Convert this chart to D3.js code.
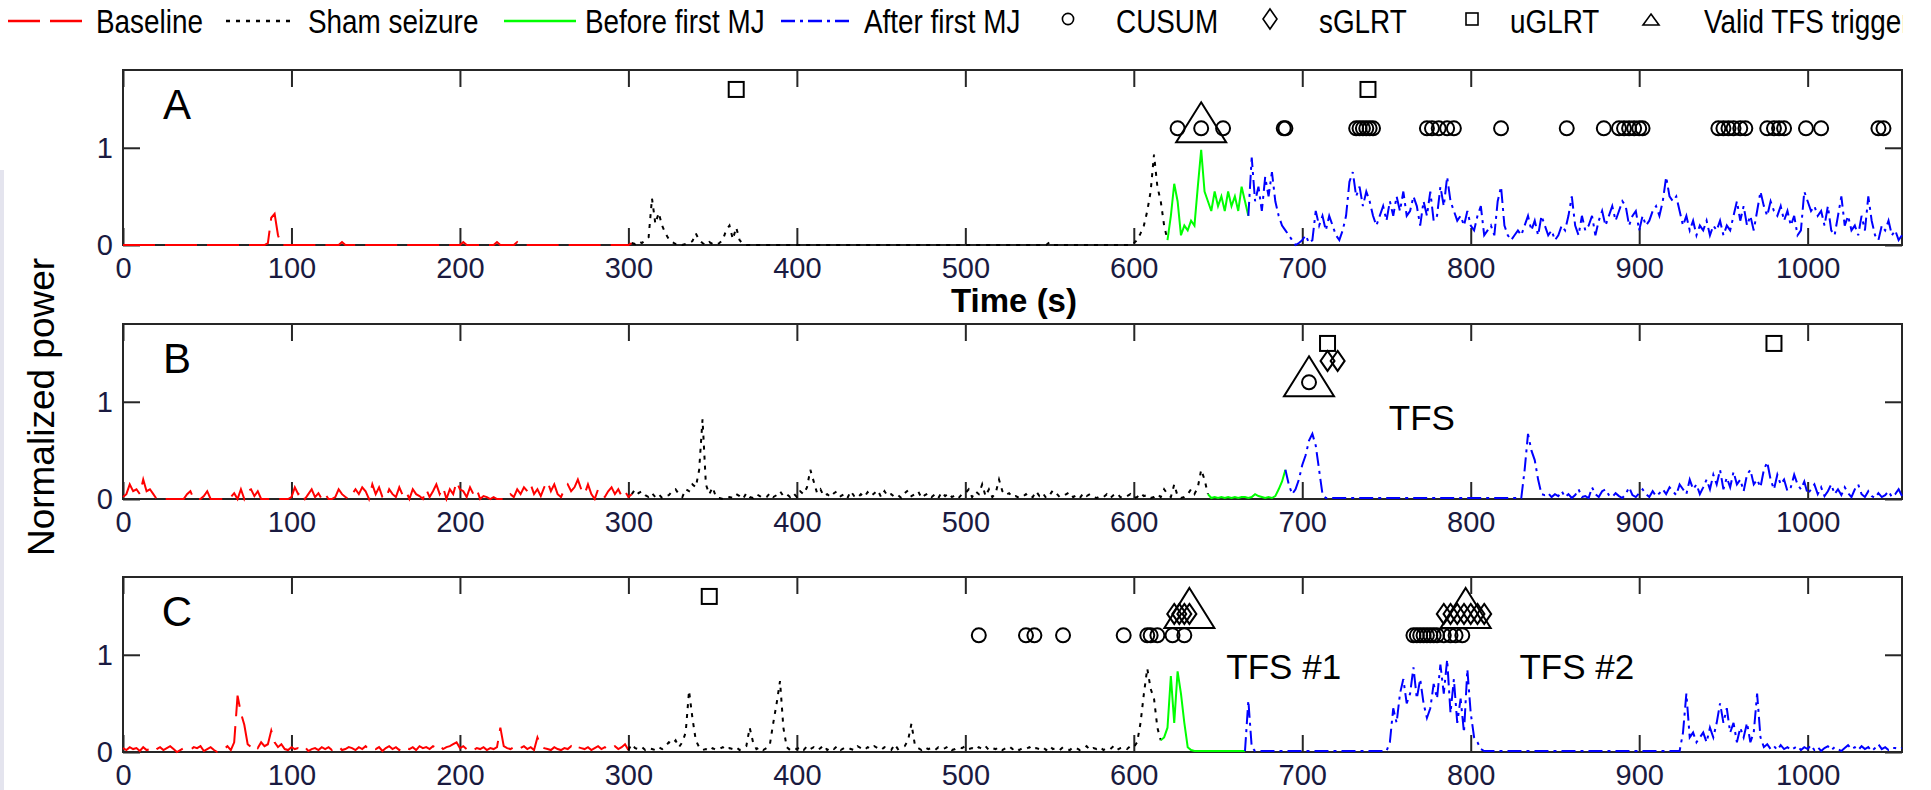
<!DOCTYPE html>
<html lang="en">
<head>
  <meta charset="UTF-8">
  <title>Normalized power</title>
  <script src="https://d3js.org/d3.v7.min.js"></script>
  <style>
    body { margin: 0; background: #fff; }
    svg text { font-family: "Liberation Sans", Arial, sans-serif; }
  </style>
</head>
<body>
<script>
  // one sample every 2 s, 0 .. 1056 s
  var tStep = 2
  var tMax = 1056
  var xTicks = [0, 100, 200, 300, 400, 500, 600, 700, 800, 900, 1000]
  var yTicks = [0, 1]
  var yMax = 1.8

  // normalized power, rows of 20 s
  var powerA = [
    0,0,0,0,0,0,0,0,0,0, 0,0,0,0,0,0,0,0,0,0, 0,0,0,0,0,0,0,0,0,0, 0,0,0,0,0,0,0,0,0,0,
    0,0,0,.02,.28,.32,.1,0,0,0,
    // 100 s
    0,0,0,0,0,0,0,0,0,0, 0,0,0,0,0,.03,0,0,0,0, 0,0,0,0,0,0,0,0,0,0, 0,0,0,0,0,0,0,0,0,0,
    0,0,0,0,0,0,0,0,0,0,
    // 200 s
    0,.03,0,0,0,0,0,0,0,0, 0,.03,0,0,0,0,0,.03,0,0, 0,0,0,0,0,0,0,0,0,0, 0,0,0,0,0,0,0,0,0,0,
    0,0,0,0,0,0,0,0,0,0,
    // 300 s
    0,.02,.01,.04,.02,.05,.08,.48,.22,.33,
    .2,.12,.06,.03,.01,.02,0,.01,.02,.04,
    .12,.05,.02,0,.03,.01,0,.02,.05,.15,
    .2,.06,.18,.05,.01,0,0,0,0,0,
    0,0,0,0,0,0,0,0,0,0,
    // 400 s
    0,0,0,0,0,0,0,0,0,0, 0,0,0,0,0,0,0,0,0,0, 0,0,0,0,0,0,0,0,0,0, 0,0,0,0,0,0,0,0,0,0,
    0,0,0,0,0,0,0,0,0,0,
    // 500 s
    0,0,0,0,0,0,0,0,0,0, 0,0,0,0,0,0,0,0,0,0, 0,0,0,0,0,.03,0,0,0,0, 0,0,0,0,0,0,0,0,0,0,
    0,0,0,0,0,0,0,0,0,0,
    // 600 s
    .02,.05,.12,.2,.35,.55,.93,.6,.45,.2,
    .05,.3,.63,.45,.1,.2,.15,.25,.2,.6,
    .98,.55,.45,.35,.55,.4,.5,.35,.55,.4,
    .5,.35,.6,.45,.3,.9,.45,.6,.35,.7,
    .5,.75,.45,.3,.2,.15,.1,.05,0,.02,
    // 700 s
    .05,.1,.02,.05,.35,.2,.3,.15,.3,.2,
    .1,.05,.15,.3,.65,.75,.5,.6,.4,.55,
    .45,.3,.2,.3,.4,.25,.45,.3,.5,.35,
    .55,.3,.35,.5,.4,.2,.45,.3,.55,.25,
    .3,.6,.4,.7,.45,.35,.25,.3,.2,.35,
    // 800 s
    .2,.15,.3,.4,.1,.15,.2,.1,.45,.6,
    .2,.1,.05,.1,.15,.1,.2,.3,.15,.25,
    .1,.3,.2,.1,.15,.05,.1,.2,.15,.3,
    .5,.2,.1,.3,.15,.2,.3,.1,.25,.35,
    .2,.3,.4,.25,.35,.45,.4,.2,.3,.35,
    // 900 s
    .15,.3,.2,.25,.35,.4,.3,.45,.7,.5,
    .45,.5,.35,.2,.3,.15,.25,.1,.2,.15,
    .25,.1,.2,.15,.25,.1,.2,.15,.3,.45,
    .25,.4,.2,.3,.15,.35,.55,.4,.3,.45,
    .35,.3,.4,.25,.35,.2,.3,.1,.15,.55,
    // 1000 s
    .45,.35,.4,.3,.35,.2,.4,.15,.1,.3,
    .5,.2,.3,.15,.2,.1,.3,.15,.5,.25,
    .1,.05,.2,.15,.25,.1,.15,.05,.1
  ]

  var powerB = [
    .02,.05,.15,.08,.1,.05,.2,.08,.1,.05,
    0,0,0,0,0,0,0,0,0,.05,
    .08,0,0,0,.03,.08,0,0,0,0,
    0,0,.02,.06,0,.1,0,.08,.1,.03,
    .08,0,0,0,0,0,0,0,0,0,
    // 100 s
    .02,.12,.05,.08,0,.05,.1,.02,.06,0,
    .05,0,0,.02,.1,.05,.02,0,.05,.1,
    .05,.12,.08,0,.15,.05,.12,.02,0,.1,
    .05,.02,.12,.04,.08,0,.1,.05,.03,0,
    .1,.02,.08,.15,.05,.12,0,.1,.05,.18,
    // 200 s
    .1,.08,.02,.12,.05,.1,0,.03,.02,0,
    .02,0,0,0,0,.05,.02,.1,.05,.12,
    .08,.15,.05,.1,.03,.12,.18,.08,.15,.05,
    .02,.1,.15,.08,.12,.2,.1,.05,.15,.05,
    0,.1,.05,.02,.08,.12,.05,.1,.03,.08,
    // 300 s
    .02,.05,.1,.06,.08,.04,.02,.06,.02,.05,
    .01,.03,.04,.08,.1,.05,.02,.1,.08,.15,
    .12,.3,.82,.15,.05,.12,.02,.01,0,0,
    .02,.01,.05,.03,0,.06,.02,.01,.05,.03,
    .01,.02,.06,.02,.04,.08,.03,.05,.02,.06,
    // 400 s
    .02,.08,.05,.12,.3,.18,.06,.1,.03,.05,
    .02,.06,.08,.03,.05,.01,.08,.03,.01,.05,
    .02,.07,.03,.06,.09,.02,.08,.03,.05,.02,
    .04,.01,.06,.09,.03,.05,.08,.01,.04,.06,
    .02,.05,.01,.07,.03,.06,.02,.04,.01,.05,
    // 500 s
    .06,.1,.02,.08,.05,.15,.03,.1,.02,.06,
    .2,.08,.04,.06,.02,.03,.01,.02,.05,.01,
    .02,.08,.03,.06,.01,.04,.09,.06,.02,.03,
    .05,.07,.02,.04,.01,.06,.03,.05,.02,.01,
    .03,.02,.05,.01,.04,.06,.02,.01,.03,.05,
    // 600 s
    .01,.02,.06,.03,.04,.01,.02,.05,.02,.1,
    .05,.02,.15,.03,.01,.02,.05,.1,.05,.12,
    .3,.2,.05,.01,.02,.01,.02,.01,.02,.01,
    .02,.01,.02,.02,.01,.02,.05,.03,.02,.01,
    .02,.01,.03,.1,.18,.3,.15,.05,.1,.2,
    // 700 s
    .35,.45,.6,.67,.55,.3,.05,.01,.01,.01,
    .01,.01,.01,.01,.01,.01,.01,.01,.01,.01,
    .01,.01,.01,.01,.01,.01,.01,.01,.01,.01,
    .01,.01,.01,.01,.01,.01,.01,.01,.01,.01,
    .01,.01,.01,.01,.01,.01,.01,.01,.01,.01,
    // 800 s
    .01,.01,.01,.01,.01,.01,.01,.01,.01,.01,
    .01,.01,.01,.01,.01,.01,.3,.67,.5,.4,
    .2,.05,.04,.06,.02,.05,.03,.08,.02,.05,
    .01,.04,.1,.02,.03,.01,.12,.05,.02,.08,
    .1,.04,.02,.06,.03,.01,.05,.12,.04,.02,
    // 900 s
    .06,.1,.05,.02,.08,.03,.06,.1,.05,.12,
    .08,.04,.15,.1,.05,.2,.1,.15,.05,.12,
    .2,.1,.25,.15,.3,.1,.22,.12,.28,.15,
    .2,.08,.25,.3,.15,.2,.12,.3,.38,.2,
    .1,.25,.15,.2,.08,.12,.25,.15,.1,.18,
    // 1000 s
    .05,.1,.15,.05,.12,.03,.08,.15,.05,.1,
    .04,.12,.06,.02,.1,.15,.05,.02,.08,.03,
    .01,.06,.02,.04,.08,.02,.05,.1,.03
  ]

  var powerC = [
    .04,.02,.05,.03,.04,.01,.05,.02,.03,0,
    .03,.05,.02,.04,.06,.03,0,.02,.04,.03,
    .02,.05,.04,.06,.01,.03,.05,.02,0,0,
    .03,.06,.02,.1,.58,.4,.28,.08,.05,.08,
    .04,.1,.06,.08,.22,.1,.05,.08,.03,.02,
    // 100 s
    .05,.03,.04,.02,.05,.01,.03,.04,.02,.05,
    .03,.05,.02,.04,.06,.02,.03,.05,.04,.02,
    .05,.03,.06,.02,.04,.03,.05,.01,.04,.06,
    .03,.05,.02,.06,.04,.03,.05,.02,.06,.04,
    .05,.03,.06,.04,.07,.03,.05,.06,.08,.1,
    // 200 s
    .04,.06,.03,.05,.02,.04,.03,.05,.02,.04,
    .03,.05,.25,.06,.04,.03,.05,.02,.04,.06,
    .03,.05,.02,.15,.06,.04,.03,.02,.05,.03,
    .02,.04,.03,.06,.02,.05,.04,.03,.05,.02,
    .04,.06,.03,.05,.02,.04,.06,.03,.05,.08,
    // 300 s
    .02,.08,.04,.03,.05,.02,.04,.03,.02,.05,
    .03,.06,.1,.08,.12,.05,.1,.2,.63,.35,
    .12,.05,.02,.03,.01,.04,.02,.03,.05,.02,
    .04,.03,.05,.02,.04,.06,.25,.1,.03,.05,
    .02,.04,.08,.3,.5,.73,.25,.05,.02,.04,
    // 400 s
    .03,.05,.02,.06,.03,.05,.02,.04,.07,.02,
    .05,.03,.06,.02,.04,.05,.03,.02,.06,.04,
    .02,.05,.03,.06,.04,.02,.05,.03,.02,.08,
    .03,.05,.06,.12,.29,.08,.04,.02,.05,.03,
    .04,.02,.05,.03,.04,.06,.02,.03,.05,.04,
    // 500 s
    .06,.03,.04,.02,.05,.03,.06,.02,.04,.03,
    .05,.02,.04,.06,.03,.05,.02,.04,.03,.05,
    .02,.04,.03,.05,.02,.06,.03,.04,.02,.05,
    .03,.02,.05,.04,.02,.03,.06,.02,.04,.03,
    .05,.02,.04,.03,.06,.02,.04,.05,.03,.06,
    // 600 s
    .05,.1,.3,.6,.86,.65,.55,.25,.12,.15,
    .25,.78,.3,.83,.6,.3,.05,.02,.01,.01,
    .01,.01,.01,.01,.01,.01,.01,.01,.01,.01,
    .01,.01,.01,.01,.53,.05,.01,.01,.01,.01,
    .01,.01,.01,.01,.01,.01,.01,.01,.01,.01,
    // 700 s
    .01,.01,.01,.01,.01,.01,.01,.01,.01,.01,
    .01,.01,.01,.01,.01,.01,.01,.01,.01,.01,
    .01,.01,.01,.01,.01,.01,.1,.45,.3,.6,
    .75,.5,.6,.87,.55,.75,.5,.35,.45,.7,
    .55,.9,.6,.95,.4,.75,.3,.55,.2,.85,
    // 800 s
    .4,.15,.1,.03,.01,.01,.01,.01,.01,.01,
    .01,.01,.01,.01,.01,.01,.01,.01,.01,.01,
    .01,.01,.01,.01,.01,.01,.01,.01,.01,.01,
    .01,.01,.01,.01,.01,.01,.01,.01,.01,.01,
    .01,.01,.01,.01,.01,.01,.01,.01,.01,.01,
    // 900 s
    .01,.01,.01,.01,.01,.01,.01,.01,.01,.01,
    .01,.01,.01,.2,.6,.15,.2,.1,.15,.2,
    .1,.25,.15,.3,.5,.3,.45,.2,.3,.1,
    .25,.15,.3,.1,.2,.6,.15,.05,.08,.03,
    .06,.02,.07,.03,.05,.02,.04,.06,.02,.05,
    // 1000 s
    .03,.07,.02,.05,.01,.04,.06,.02,.05,.03,
    .01,.04,.07,.03,.05,.02,.06,.03,.05,.01,
    .04,.08,.03,.05,.02,.04,.04,.03,.04
  ]

  // phase changes (s): baseline | sham seizure | before first MJ | after first MJ
  var phaseA = [302, 620, 668]
  var phaseB = [302, 644, 690]
  var phaseC = [300, 616, 666]

  // detector alarms (s)
  var cusumA = [626, 640, 653, 689, 690, 732, 734, 736, 738, 740, 742, 774, 777, 781, 786, 790,
    818, 857, 879, 888, 891, 894, 897, 900, 902, 947, 950, 953, 956, 960, 963,
    976, 980, 983, 986, 999, 1008, 1042, 1045]
  var sglrtA = []
  var uglrtA = [364, 739]
  var trigA = [640]

  var cusumB = [704]
  var sglrtB = [715, 721]
  var uglrtB = [715, 980]
  var trigB = [704]

  var cusumC = [508, 536, 541, 558, 594, 608, 610, 614, 623, 630,
    766, 768, 770, 772, 774, 776, 778, 780, 784, 788, 791, 795]
  var sglrtC = [624, 627, 630, 633, 784, 788, 792, 796, 800, 804, 808]
  var uglrtC = [348]
  var trigC = [633, 797]

  var cusumLevel = 1.2, sglrtLevel = 1.42, uglrtLevel = 1.6
  var trigLevel = [1.2, 1.2, 1.42]

  var panelNames = ['A', 'B', 'C']
  var notesB = [['TFS', 771, 0.71]]
  var notesC = [['TFS #1', 689, 0.75], ['TFS #2', 863, 0.75]]

  var seriesNames = ['Baseline', 'Sham seizure', 'Before first MJ', 'After first MJ']
  var markerNames = ['CUSUM', 'sGLRT', 'uGLRT', 'Valid TFS trigger']

  var width = 1931, height = 790
  var left = 123, right = 1902
  var panelTop = [70, 324, 577], panelH = 175
  var ink = '#262626', tickInk = '#1a1a40'

  var phaseStyle = [
    {color: '#ff0000', dash: '32 10'},
    {color: '#000000', dash: '4 6'},
    {color: '#00ff00', dash: null},
    {color: '#0000ff', dash: '14 5 3 5'}
  ]

  var svg = d3.select('body').append('svg').attr('width', width).attr('height', height)
  svg.append('rect').attr('width', width).attr('height', height).attr('fill', '#fff')
  svg.append('rect').attr('x', 0).attr('y', 170).attr('width', 4).attr('height', 620).attr('fill', '#e4e4ee')

  var x = d3.scaleLinear().domain([0, tMax]).range([left, right])
  var fmt = d3.format('d')

  function marker(sel, kind, s) {
    if (kind == 'circle') {
      sel.append('circle').attr('r', 7 * s)
    } else if (kind == 'diamond') {
      sel.append('path').attr('d', 'M0,' + (-10 * s) + 'L' + (7 * s) + ',0L0,' + (10 * s) + 'L' + (-7 * s) + ',0Z')
    } else if (kind == 'square') {
      sel.append('rect').attr('x', -7.5 * s).attr('y', -7.5 * s).attr('width', 15 * s).attr('height', 15 * s)
    }
  }

  function drawPanel(i, power, phase, cusum, sglrt, uglrt, trig, notes) {
    var top = panelTop[i]
    var y = d3.scaleLinear().domain([0, yMax]).range([top + panelH, top])
    var g = svg.append('g')

    // box and inward ticks
    g.append('rect').attr('x', left).attr('y', top).attr('width', right - left).attr('height', panelH)
      .attr('fill', 'none').attr('stroke', ink).attr('stroke-width', 2)
    var axes = [
      [d3.axisBottom(x).tickValues(xTicks).tickSize(-17).tickPadding(12).tickFormat(fmt), 'translate(0,' + (top + panelH) + ')'],
      [d3.axisTop(x).tickValues(xTicks).tickSize(-17).tickFormat(''), 'translate(0,' + top + ')'],
      [d3.axisLeft(y).tickValues(yTicks).tickSize(-17).tickPadding(10).tickFormat(fmt), 'translate(' + left + ',0)'],
      [d3.axisRight(y).tickValues(yTicks).tickSize(-17).tickFormat(''), 'translate(' + right + ',0)']
    ]
    axes.forEach(function (a) {
      var ag = g.append('g').attr('transform', a[1]).call(a[0].tickSizeOuter(0))
      ag.select('.domain').remove()
      ag.selectAll('line').attr('stroke', ink).attr('stroke-width', 2)
      ag.selectAll('text').attr('font-size', 29).attr('fill', tickInk)
        .attr('font-family', '"Liberation Sans", Arial, sans-serif')
    })

    // power trace split into the four phases
    var line = d3.line().x(function (d) { return x(d[0]) }).y(function (d) { return y(d[1]) })
    var bounds = [0].concat(phase, [tMax])
    for (var k = 0; k < 4; k++) {
      var pts = []
      for (var j = Math.floor(bounds[k] / tStep); j <= Math.ceil(bounds[k + 1] / tStep) && j < power.length; j++) {
        pts.push([j * tStep, power[j]])
      }
      g.append('path').datum(pts).attr('d', line).attr('fill', 'none')
        .attr('stroke', phaseStyle[k].color).attr('stroke-width', 2)
        .attr('stroke-dasharray', phaseStyle[k].dash)
    }

    // detector marks
    var marks = [[cusum, cusumLevel, 'circle'], [sglrt, sglrtLevel, 'diamond'], [uglrt, uglrtLevel, 'square']]
    marks.forEach(function (m) {
      g.selectAll(null).data(m[0]).enter().append('g')
        .attr('transform', function (d) { return 'translate(' + x(d) + ',' + y(m[1]) + ')' })
        .attr('fill', 'none').attr('stroke', '#000').attr('stroke-width', 2)
        .each(function () { marker(d3.select(this), m[2], 1) })
    })
    g.selectAll(null).data(trig).enter().append('path')
      .attr('transform', function (d) { return 'translate(' + x(d) + ',' + y(trigLevel[i]) + ')' })
      .attr('d', 'M0,-26L25,14L-25,14Z')
      .attr('fill', 'none').attr('stroke', '#000').attr('stroke-width', 2)

    // panel letter and notes
    g.append('text').attr('x', x(32)).attr('y', y(1.3)).attr('text-anchor', 'middle')
      .attr('font-size', 42).attr('fill', '#000').text(panelNames[i])
    g.selectAll(null).data(notes).enter().append('text')
      .attr('x', function (d) { return x(d[1]) }).attr('y', function (d) { return y(d[2]) })
      .attr('text-anchor', 'middle').attr('font-size', 35).attr('fill', '#000')
      .text(function (d) { return d[0] })
  }

  drawPanel(0, powerA, phaseA, cusumA, sglrtA, uglrtA, trigA, [])
  drawPanel(1, powerB, phaseB, cusumB, sglrtB, uglrtB, trigB, notesB)
  drawPanel(2, powerC, phaseC, cusumC, sglrtC, uglrtC, trigC, notesC)

  // axis titles
  svg.append('text').attr('x', 1014).attr('y', 312).attr('text-anchor', 'middle')
    .attr('font-size', 33).attr('font-weight', 'bold').attr('fill', '#000').text('Time (s)')
  svg.append('text').attr('transform', 'translate(54,407) rotate(-90)').attr('text-anchor', 'middle')
    .attr('font-size', 37).attr('fill', '#000').text('Normalized power')

  // legend row across the top
  var legendY = 21
  svg.append('clipPath').attr('id', 'legclip').append('rect').attr('x', 0).attr('y', 0).attr('width', 1903).attr('height', 60)
  var leg = svg.append('g').attr('clip-path', 'url(#legclip)')
  var lineSlots = [[8, 84, 96], [226, 296, 308], [504, 576, 585], [781, 853, 864]]
  var markSlots = [[1068, 1116], [1270, 1319], [1472, 1510], [1651, 1704]]
  lineSlots.forEach(function (s, k) {
    leg.append('line').attr('x1', s[0]).attr('x2', s[1]).attr('y1', legendY).attr('y2', legendY)
      .attr('stroke', phaseStyle[k].color).attr('stroke-width', 2.5).attr('stroke-dasharray', phaseStyle[k].dash)
  })
  var markKinds = ['circle', 'diamond', 'square', 'triangle']
  markSlots.forEach(function (s, k) {
    var mg = leg.append('g').attr('transform', 'translate(' + s[0] + ',' + (legendY - 2) + ')')
      .attr('fill', 'none').attr('stroke', '#000').attr('stroke-width', 1.6)
    if (markKinds[k] == 'triangle') mg.append('path').attr('d', 'M0,-5L8,6L-8,6Z')
    else marker(mg, markKinds[k], k == 1 ? 1 : 0.8)
  })
  var legendText = seriesNames.map(function (n, k) { return [n, lineSlots[k][2]] })
    .concat(markerNames.map(function (n, k) { return [n, markSlots[k][1]] }))
  legendText.forEach(function (t) {
    leg.append('text').attr('transform', 'translate(' + t[1] + ',33) scale(0.82,1)')
      .attr('font-size', 34).attr('fill', '#000').text(t[0])
  })
</script>
</body>
</html>
